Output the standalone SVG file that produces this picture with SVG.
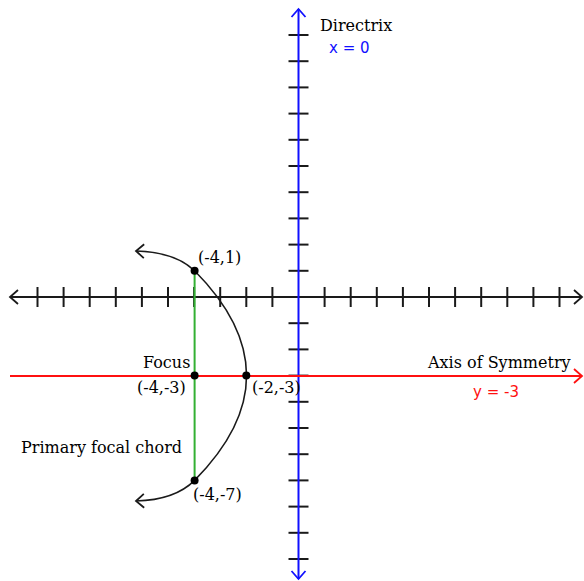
<svg xmlns="http://www.w3.org/2000/svg" width="584" height="581" viewBox="0 0 584 581">
<style>
.ax{stroke:#1a1a1a;stroke-width:2;fill:none}
.tk{stroke:#1a1a1a;stroke-width:2}
.lbl{font-family:"DejaVu Serif","Liberation Serif",serif;font-size:16px;fill:#000}
.eq{font-family:"DejaVu Sans","Liberation Sans",sans-serif;font-size:15px}
.dot{fill:#000}
</style>
<defs>
<marker id="arrK" markerUnits="userSpaceOnUse" markerWidth="20" markerHeight="20" refX="0" refY="0" orient="auto-start-reverse" overflow="visible"><path d="M -8 -7 L 0 0 L -8 7" fill="none" stroke="#1a1a1a" stroke-width="1.8"/></marker>
<marker id="arrB" markerUnits="userSpaceOnUse" markerWidth="20" markerHeight="20" refX="0" refY="0" orient="auto-start-reverse" overflow="visible"><path d="M -8 -7 L 0 0 L -8 7" fill="none" stroke="#1010ff" stroke-width="1.8"/></marker>
<marker id="arrR" markerUnits="userSpaceOnUse" markerWidth="20" markerHeight="20" refX="0" refY="0" orient="auto" overflow="visible"><path d="M -8 -7 L 0 0 L -8 7" fill="none" stroke="#ff1010" stroke-width="1.8"/></marker>
</defs>
<rect width="584" height="581" fill="#fff"/>
<g id="connectors">
<line id="x-axis" class="ax" x1="10" y1="297" x2="582" y2="297" marker-start="url(#arrK)" marker-end="url(#arrK)"/>
<g id="x-ticks" class="tk">
<line x1="37.5" y1="287" x2="37.5" y2="307"/><line x1="63.6" y1="287" x2="63.6" y2="307"/><line x1="89.7" y1="287" x2="89.7" y2="307"/><line x1="115.8" y1="287" x2="115.8" y2="307"/><line x1="141.9" y1="287" x2="141.9" y2="307"/><line x1="168" y1="287" x2="168" y2="307"/><line x1="194.1" y1="287" x2="194.1" y2="307"/><line x1="220.2" y1="287" x2="220.2" y2="307"/><line x1="246.3" y1="287" x2="246.3" y2="307"/><line x1="272.4" y1="287" x2="272.4" y2="307"/>
<line x1="324.6" y1="287" x2="324.6" y2="307"/><line x1="350.7" y1="287" x2="350.7" y2="307"/><line x1="376.8" y1="287" x2="376.8" y2="307"/><line x1="402.9" y1="287" x2="402.9" y2="307"/><line x1="429" y1="287" x2="429" y2="307"/><line x1="455.1" y1="287" x2="455.1" y2="307"/><line x1="481.2" y1="287" x2="481.2" y2="307"/><line x1="507.3" y1="287" x2="507.3" y2="307"/><line x1="533.4" y1="287" x2="533.4" y2="307"/><line x1="559.5" y1="287" x2="559.5" y2="307"/>
</g>
<g id="y-ticks" class="tk">
<line x1="288.5" y1="35" x2="308.5" y2="35"/><line x1="288.5" y1="61.2" x2="308.5" y2="61.2"/><line x1="288.5" y1="87.4" x2="308.5" y2="87.4"/><line x1="288.5" y1="113.6" x2="308.5" y2="113.6"/><line x1="288.5" y1="139.8" x2="308.5" y2="139.8"/><line x1="288.5" y1="166" x2="308.5" y2="166"/><line x1="288.5" y1="192.2" x2="308.5" y2="192.2"/><line x1="288.5" y1="218.4" x2="308.5" y2="218.4"/><line x1="288.5" y1="244.6" x2="308.5" y2="244.6"/><line x1="288.5" y1="270.8" x2="308.5" y2="270.8"/>
<line x1="288.5" y1="323.2" x2="308.5" y2="323.2"/><line x1="288.5" y1="349.4" x2="308.5" y2="349.4"/><line x1="288.5" y1="375.6" x2="308.5" y2="375.6"/><line x1="288.5" y1="401.8" x2="308.5" y2="401.8"/><line x1="288.5" y1="428" x2="308.5" y2="428"/><line x1="288.5" y1="454.2" x2="308.5" y2="454.2"/><line x1="288.5" y1="480.4" x2="308.5" y2="480.4"/><line x1="288.5" y1="506.6" x2="308.5" y2="506.6"/><line x1="288.5" y1="532.8" x2="308.5" y2="532.8"/><line x1="288.5" y1="559" x2="308.5" y2="559"/>
</g>
<line id="directrix" x1="298.5" y1="9" x2="298.5" y2="579" stroke="#1010ff" stroke-width="2" marker-start="url(#arrB)" marker-end="url(#arrB)"/>
<line id="axis-of-symmetry" x1="10" y1="376" x2="582" y2="376" stroke="#ff1010" stroke-width="2" marker-end="url(#arrR)"/>
<line id="focal-chord" x1="194.6" y1="270.8" x2="194.6" y2="480.4" stroke="#33b033" stroke-width="2"/>
<path id="parabola" d="M 136 251 Q 175 252 194.6 270.8 Q 298.5 375.6 194.6 480.4 Q 175 500 136 501" fill="none" stroke="#1a1a1a" stroke-width="1.5" marker-start="url(#arrK)" marker-end="url(#arrK)"/>
</g>
<g id="point-top"><circle class="dot" cx="194.6" cy="270.8" r="4"/><text class="lbl" x="198" y="263">(-4,1)</text></g>
<g id="point-focus"><circle class="dot" cx="194.6" cy="375.6" r="4"/><text class="lbl" x="143" y="368">Focus</text><text class="lbl" x="137" y="393">(-4,-3)</text></g>
<g id="point-vertex"><circle class="dot" cx="246.3" cy="375.6" r="4"/><text class="lbl" x="252" y="393">(-2,-3)</text></g>
<g id="point-bottom"><circle class="dot" cx="194.6" cy="480.4" r="4"/><text class="lbl" x="193" y="500">(-4,-7)</text></g>
<g id="label-directrix"><text class="lbl" x="320" y="31">Directrix</text><text class="eq" x="329" y="53" fill="#1010ff">x = 0</text></g>
<g id="label-axis"><text class="lbl" x="428" y="368">Axis of Symmetry</text><text class="eq" x="473" y="397" fill="#ff1010">y = -3</text></g>
<g id="label-chord"><text class="lbl" x="21" y="453">Primary focal chord</text></g>
</svg>
